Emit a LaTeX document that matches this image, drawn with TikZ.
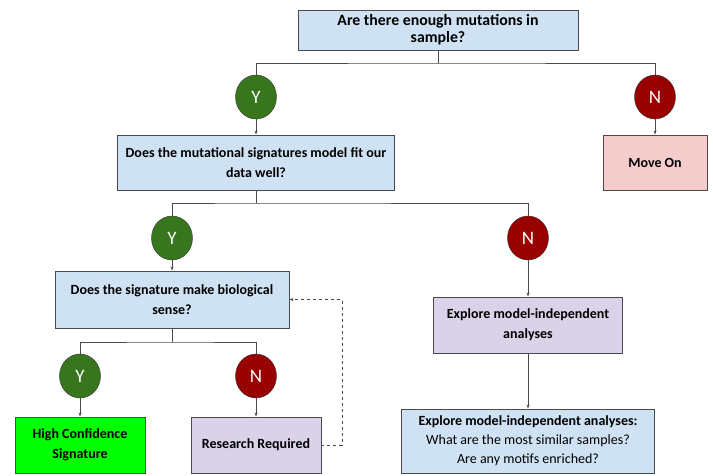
\documentclass[tikz,border=0pt]{standalone}
\usepackage{fontspec}
\setmainfont{Carlito}
\usetikzlibrary{shapes.geometric,arrows.meta,positioning}
\definecolor{qblue}{HTML}{CFE2F3}
\definecolor{qpink}{HTML}{F4CCCC}
\definecolor{qlav}{HTML}{D9D2E9}
\definecolor{qgreen}{HTML}{00FF00}
\definecolor{ygreen}{HTML}{38761D}
\definecolor{nred}{HTML}{990000}
\definecolor{edge}{HTML}{4A4A4A}

\begin{document}
\begin{tikzpicture}[x=1pt,y=-1pt,
    qbox/.style={draw=edge, line width=0.9pt, align=center, inner sep=2pt,
        font=\bfseries\fontsize{14}{20}\selectfont},
    yes/.style={ellipse, draw=black!80, fill=ygreen, text=white, inner sep=0pt,
        minimum width=41pt, minimum height=44pt, font=\fontsize{19}{19}\selectfont},
    no/.style={yes, fill=nred},
    line/.style={draw=edge, line width=0.7pt},
    arr/.style={line, -{Stealth[length=4pt,width=3pt]}}]
    \useasboundingbox (0,0) rectangle (713,475);

    % first question
    \node[qbox, fill=qblue, minimum width=280pt, minimum height=40pt,
        font=\bfseries\fontsize{15.8}{17}\selectfont] (enough) at (438,30)
        {Are there enough mutations in\\sample?};
    \coordinate (split1) at (438,63);
    \node[yes] (y1) at (256,97) {Y};
    \node[no] (n1) at (655,97) {N};
    \node[qbox, fill=qblue, minimum width=277pt, minimum height=55pt] (fit) at (256,162.5)
        {Does the mutational signatures model fit our\\data well?};
    \node[qbox, fill=qpink, minimum width=104pt, minimum height=55pt] (moveon) at (655,162.5)
        {Move On};

    \draw[line] (enough.south) -- (split1);
    \draw[line] (y1.north) |- (split1) -| (n1.north);
    \draw[arr] (y1) -- (fit);
    \draw[arr] (n1) -- (moveon);

    % second question
    \coordinate (split2) at (256,203);
    \node[yes] (y2) at (172,238) {Y};
    \node[no] (n2) at (528,238) {N};
    \node[qbox, fill=qblue, minimum width=234pt, minimum height=57pt] (sense) at (172,299.5)
        {Does the signature make biological\\sense?};
    \node[qbox, fill=qlav, minimum width=189pt, minimum height=56pt] (explore) at (528,325)
        {Explore model-independent\\analyses};
    \node[qbox, fill=qblue, minimum width=253pt, minimum height=64pt,
        font=\fontsize{14}{19}\selectfont] (explore2) at (528,441)
        {\textbf{Explore model-independent analyses:}\\What are the most similar samples?\\Are any motifs enriched?};

    \draw[line] (fit.south) -- (split2);
    \draw[line] (y2.north) |- (split2) -| (n2.north);
    \draw[arr] (y2) -- (sense);
    \draw[arr] (n2) -- (explore);
    \draw[arr] (explore) -- (explore2);

    % third question
    \coordinate (split3) at (172,342);
    \node[yes] (y3) at (80,376) {Y};
    \node[no] (n3) at (256,376) {N};
    \node[qbox, fill=qgreen, minimum width=130pt, minimum height=56pt] (high) at (80,445)
        {High Confidence\\Signature};
    \node[qbox, fill=qlav, minimum width=130pt, minimum height=56pt] (research) at (256,445)
        {Research Required};
    \coordinate (back) at (342,299.5);

    \draw[line] (sense.south) -- (split3);
    \draw[line] (y3.north) |- (split3) -| (n3.north);
    \draw[arr] (y3) -- (high);
    \draw[arr] (n3) -- (research);
    \draw[arr, dashed] (research.east) -| (back) -- (sense.east);
\end{tikzpicture}
\end{document}
